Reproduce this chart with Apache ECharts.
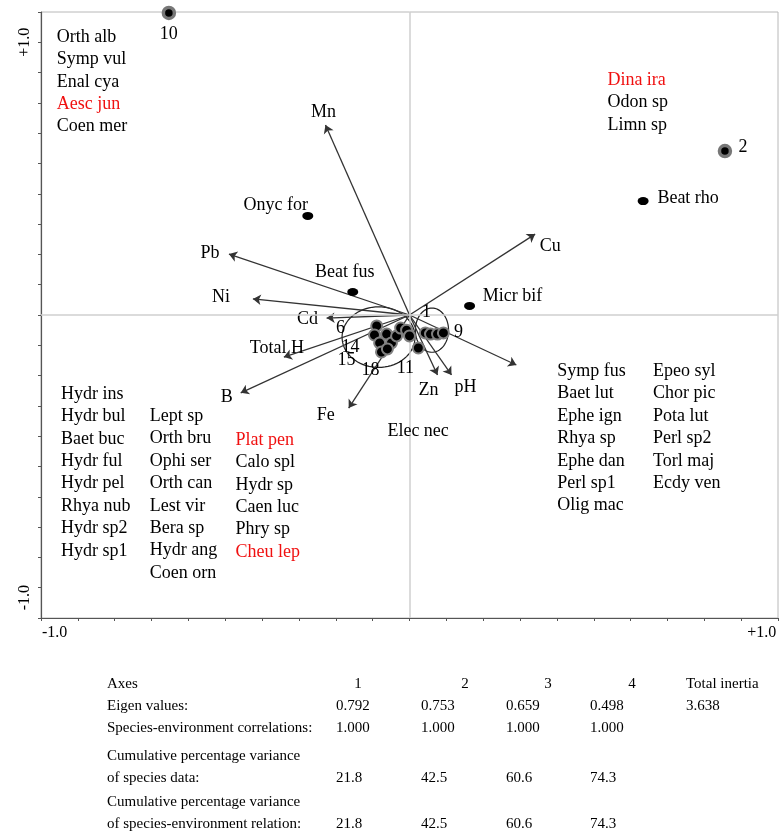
<!DOCTYPE html>
<html>
<head>
<meta charset="UTF-8">
<title>CCA ordination</title>
<script src="https://cdn.jsdelivr.net/npm/echarts@6/dist/echarts.min.js"></script>
<style>
  html, body { margin: 0; padding: 0; background: #fff; }
</style>
</head>
<body>
<div id="main" style="width: 781px; height: 832px;"></div>
<script type="text/javascript">
// ---- data (axis units) ----
var siteNames = ['10', '2'];
var siteX = [-0.653, 0.856];
var siteY = [0.997, 0.541];

// unlabelled sites in the two central groups
var clusterX = [-0.089, -0.095, -0.081, -0.062, -0.049, -0.035, -0.024, -0.008, 0.000, -0.076, -0.060, 0.024, 0.043, 0.057, 0.076, 0.092];
var clusterY = [-0.036, -0.066, -0.092, -0.063, -0.092, -0.069, -0.043, -0.050, -0.069, -0.122, -0.112, -0.109, -0.059, -0.063, -0.063, -0.059];

// site numbers printed around the groups
var clusterLabels = ['1', '9', '6', '14', '15', '18', '11'];
var clusterLabelX = [0.046, 0.133, -0.187, -0.160, -0.171, -0.106, -0.011];
var clusterLabelY = [0.010, -0.056, -0.043, -0.106, -0.149, -0.182, -0.175];

var speciesNames = ['Onyc for', 'Beat rho', 'Beat fus', 'Micr bif'];
var speciesX = [-0.276, 0.634, -0.154, 0.163];
var speciesY = [0.327, 0.376, 0.076, 0.030];

var envNames = ['Mn', 'Pb', 'Ni', 'Cd', 'Total H', 'B', 'Fe', 'Zn', 'pH', '', 'Cu'];
var envX = [-0.228, -0.490, -0.425, -0.225, -0.341, -0.458, -0.165, 0.076, 0.114, 0.290, 0.341];
var envY = [0.627, 0.201, 0.053, -0.010, -0.139, -0.257, -0.307, -0.198, -0.198, -0.165, 0.267];

// group envelopes: centre and half widths
var ellipseX = [-0.084, 0.061];
var ellipseY = [-0.073, -0.050];
var ellipseRx = [0.099, 0.045];
var ellipseRy = [0.100, 0.073];

// species lists printed in the corners
var blockTopLeft = ['Orth alb', 'Symp vul', 'Enal cya', 'Aesc jun', 'Coen mer'];
var blockTopRight = ['Dina ira', 'Odon sp', 'Limn sp'];
var blockBottomLeft1 = ['Hydr ins', 'Hydr bul', 'Baet buc', 'Hydr ful', 'Hydr pel', 'Rhya nub', 'Hydr sp2', 'Hydr sp1'];
var blockBottomLeft2 = ['Lept sp', 'Orth bru', 'Ophi ser', 'Orth can', 'Lest vir', 'Bera sp', 'Hydr ang', 'Coen orn'];
var blockBottomLeft3 = ['Plat pen', 'Calo spl', 'Hydr sp', 'Caen luc', 'Phry sp', 'Cheu lep'];
var blockBottomRight1 = ['Symp fus', 'Baet lut', 'Ephe ign', 'Rhya sp', 'Ephe dan', 'Perl sp1', 'Olig mac'];
var blockBottomRight2 = ['Epeo syl', 'Chor pic', 'Pota lut', 'Perl sp2', 'Torl maj', 'Ecdy ven'];
var blockMiddle = ['Elec nec'];
var redSpecies = ['Aesc jun', 'Dina ira', 'Plat pen', 'Cheu lep'];

// axis labels as printed
var xTickValues = [-1.0, 0.9];
var xTickText = ['-1.0', '+1.0'];
var yTickValues = [0.9, -0.9];
var yTickText = ['+1.0', '-1.0'];

// table under the plot
var tableAxes = ['1', '2', '3', '4'];
var eigenValues = ['0.792', '0.753', '0.659', '0.498'];
var totalInertia = '3.638';
var speciesEnvCorr = ['1.000', '1.000', '1.000', '1.000'];
var cumVarSpecies = ['21.8', '42.5', '60.6', '74.3'];
var cumVarRelation = ['21.8', '42.5', '60.6', '74.3'];

// ---- layout ----
var FONT = 'Liberation Serif';
var RED = '#f01010';
var LABEL_SIZE = 18;
var LINE_H = 22.4;

// label offsets (px) from each arrow tip / point
var envLabelOffset = [[-2, -13], [-19, -1], [-32, -2], [-19, 1], [-7, -9], [-14, 4], [-23, 7], [-9, 15], [14, 12], [0, 0], [15, 12]];
var speciesLabelOffset = [[-32, -11], [45, -3], [-8, -20], [43, -10]];
var siteLabelOffset = [[0, 21], [18, -4]];

// top-left anchor of each printed list (axis units)
var blocks = [
  { names: blockTopLeft, at: [-0.957, 0.954] },
  { names: blockTopRight, at: [0.537, 0.812] },
  { names: blockBottomLeft1, at: [-0.946, -0.224] },
  { names: blockBottomLeft2, at: [-0.705, -0.297] },
  { names: blockBottomLeft3, at: [-0.472, -0.376] },
  { names: blockBottomRight1, at: [0.401, -0.149] },
  { names: blockBottomRight2, at: [0.661, -0.149] },
  { names: blockMiddle, at: [-0.060, -0.347] }
];

function tickFormatter(values, texts, styles) {
  return function (v) {
    var r = Math.round(v * 10) / 10;
    for (var i = 0; i < values.length; i++) {
      if (values[i] === r) return '{' + styles[i] + '|' + texts[i] + '}';
    }
    return '';
  };
}

var envData = [], envLabelData = [];
for (var i = 0; i < envNames.length; i++) {
  envData.push({ coords: [[0, 0], [envX[i], envY[i]]] });
  envLabelData.push({
    name: envNames[i],
    value: [envX[i], envY[i]],
    label: { offset: envLabelOffset[i] }
  });
}

var speciesData = [];
for (var i = 0; i < speciesNames.length; i++) {
  speciesData.push({
    name: speciesNames[i],
    value: [speciesX[i], speciesY[i]],
    label: { offset: speciesLabelOffset[i] }
  });
}

var siteData = [];
for (var i = 0; i < siteNames.length; i++) {
  siteData.push({
    name: siteNames[i],
    value: [siteX[i], siteY[i]],
    label: { offset: siteLabelOffset[i] }
  });
}

var clusterData = [];
for (var i = 0; i < clusterX.length; i++) clusterData.push([clusterX[i], clusterY[i]]);

var clusterLabelData = [];
for (var i = 0; i < clusterLabels.length; i++) {
  clusterLabelData.push({ name: clusterLabels[i], value: [clusterLabelX[i], clusterLabelY[i]] });
}

var ellipseData = [];
for (var i = 0; i < ellipseX.length; i++) {
  ellipseData.push([ellipseX[i], ellipseY[i], ellipseRx[i], ellipseRy[i]]);
}

var blockData = blocks.map(function (b) {
  var txt = b.names.map(function (n) {
    return (redSpecies.indexOf(n) >= 0 ? '{r|' : '{b|') + n + '}';
  }).join('\n');
  return { name: txt, value: b.at };
});

// table as graphic text
var tableFont = '15px "Liberation Serif"';
var colX = [336, 421, 506, 590, 686];
var headX = [358, 465, 548, 632];
var graphics = [];
function addText(x, y, text, align) {
  graphics.push({
    type: 'text', x: x, y: y,
    style: { text: text, font: tableFont, fill: '#000', textAlign: align || 'left', textVerticalAlign: 'middle' }
  });
}
addText(107, 684, 'Axes');
tableAxes.forEach(function (t, i) { addText(headX[i], 684, t, 'center'); });
addText(686, 684, 'Total inertia');
var rowDefs = [
  { label: ['Eigen values:'], y: [706], vals: eigenValues.concat([totalInertia]) },
  { label: ['Species-environment correlations:'], y: [728], vals: speciesEnvCorr },
  { label: ['Cumulative percentage variance', 'of species data:'], y: [756, 778], vals: cumVarSpecies },
  { label: ['Cumulative percentage variance', 'of species-environment relation:'], y: [802, 824], vals: cumVarRelation }
];
rowDefs.forEach(function (r) {
  r.label.forEach(function (l, k) { addText(107, r.y[k], l); });
  var vy = r.y[r.y.length - 1];
  r.vals.forEach(function (v, j) { addText(colX[j], vy, v); });
});

var labelStyle = { color: '#000', fontFamily: FONT, fontSize: LABEL_SIZE };
var solid = { opacity: 1 };

var chart = echarts.init(document.getElementById('main'));
chart.setOption({
  animation: false,
  backgroundColor: '#fff',
  textStyle: { fontFamily: FONT },
  grid: {
    left: 41, right: 1, top: 12, bottom: 214,
    show: true, borderColor: '#b8b8b8', borderWidth: 1
  },
  xAxis: {
    type: 'value', min: -1, max: 1, interval: 0.1,
    axisLine: { onZero: false, lineStyle: { color: '#555', width: 1.2 } },
    axisTick: { show: true, length: 3, lineStyle: { color: '#555' } },
    splitLine: { show: false },
    axisLabel: {
      formatter: tickFormatter(xTickValues, xTickText, ['a', 'b']),
      color: '#000', fontFamily: FONT, fontSize: 16, margin: 7, align: 'left',
      showMinLabel: true, showMaxLabel: true,
      rich: {
        a: { fontFamily: FONT, fontSize: 16, color: '#000', padding: [0, 0, 0, 1] },
        b: { fontFamily: FONT, fontSize: 16, color: '#000', padding: [0, 0, 0, 6] }
      }
    }
  },
  yAxis: {
    type: 'value', min: -1, max: 1, interval: 0.1,
    axisLine: { onZero: false, lineStyle: { color: '#555', width: 1.2 } },
    axisTick: { show: true, length: 3, lineStyle: { color: '#555' } },
    splitLine: { show: false },
    axisLabel: {
      formatter: tickFormatter(yTickValues, yTickText, ['a', 'b']),
      color: '#000', fontFamily: FONT, fontSize: 16, margin: 8, rotate: 90,
      rich: {
        a: { fontFamily: FONT, fontSize: 16, color: '#000' },
        b: { fontFamily: FONT, fontSize: 16, color: '#000', padding: [0, 20, 0, 0] }
      }
    }
  },
  graphic: graphics,
  series: [
    {
      type: 'custom',
      data: ellipseData,
      z: 2,
      renderItem: function (params, api) {
        var c = api.coord([api.value(0), api.value(1)]);
        var s = api.size([api.value(2), api.value(3)]);
        var pts = [];
        for (var k = 0; k < 72; k++) {
          var a = k / 72 * Math.PI * 2;
          pts.push([c[0] + s[0] * Math.cos(a), c[1] + s[1] * Math.sin(a)]);
        }
        return {
          type: 'polygon',
          shape: { points: pts },
          style: { fill: 'none', stroke: '#222', lineWidth: 1.2 }
        };
      },
      markLine: {
        silent: true, symbol: 'none', label: { show: false },
        lineStyle: { color: '#cfcfcf', width: 1.5, type: 'solid' },
        data: [{ xAxis: 0 }, { yAxis: 0 }]
      }
    },
    {
      type: 'lines',
      coordinateSystem: 'cartesian2d',
      z: 3,
      symbol: ['none', 'arrow'],
      symbolSize: 8,
      lineStyle: { color: '#333', width: 1.3, opacity: 1 },
      data: envData
    },
    {
      type: 'scatter',
      symbolSize: 0,
      z: 4,
      itemStyle: solid,
      data: envLabelData,
      label: Object.assign({ show: true, position: 'inside', formatter: '{b}' }, labelStyle)
    },
    {
      type: 'scatter',
      symbol: 'circle',
      symbolSize: [11, 8],
      z: 5, clip: false,
      itemStyle: { color: '#000', opacity: 1 },
      data: speciesData,
      label: Object.assign({ show: true, position: 'inside', formatter: '{b}' }, labelStyle)
    },
    {
      type: 'scatter',
      symbolSize: 11,
      z: 5, clip: false,
      itemStyle: { color: '#000', borderColor: '#777', borderWidth: 3.5, opacity: 1 },
      data: siteData,
      label: Object.assign({ show: true, position: 'inside', formatter: '{b}' }, labelStyle)
    },
    {
      type: 'scatter',
      symbolSize: 11,
      z: 5, clip: false,
      itemStyle: { color: '#000', borderColor: '#808080', borderWidth: 2, opacity: 1 },
      data: clusterData
    },
    {
      type: 'scatter',
      symbolSize: 0,
      z: 6,
      itemStyle: solid,
      data: clusterLabelData,
      label: Object.assign({ show: true, position: 'inside', formatter: '{b}' }, labelStyle)
    },
    {
      type: 'scatter',
      symbolSize: 0,
      z: 6, clip: false,
      itemStyle: solid,
      data: blockData,
      label: {
        show: true, position: [0, 0], align: 'left', verticalAlign: 'top',
        formatter: '{b}',
        rich: {
          b: { color: '#000', fontFamily: FONT, fontSize: LABEL_SIZE, lineHeight: LINE_H },
          r: { color: RED, fontFamily: FONT, fontSize: LABEL_SIZE, lineHeight: LINE_H }
        }
      }
    }
  ]
});
</script>
</body>
</html>
